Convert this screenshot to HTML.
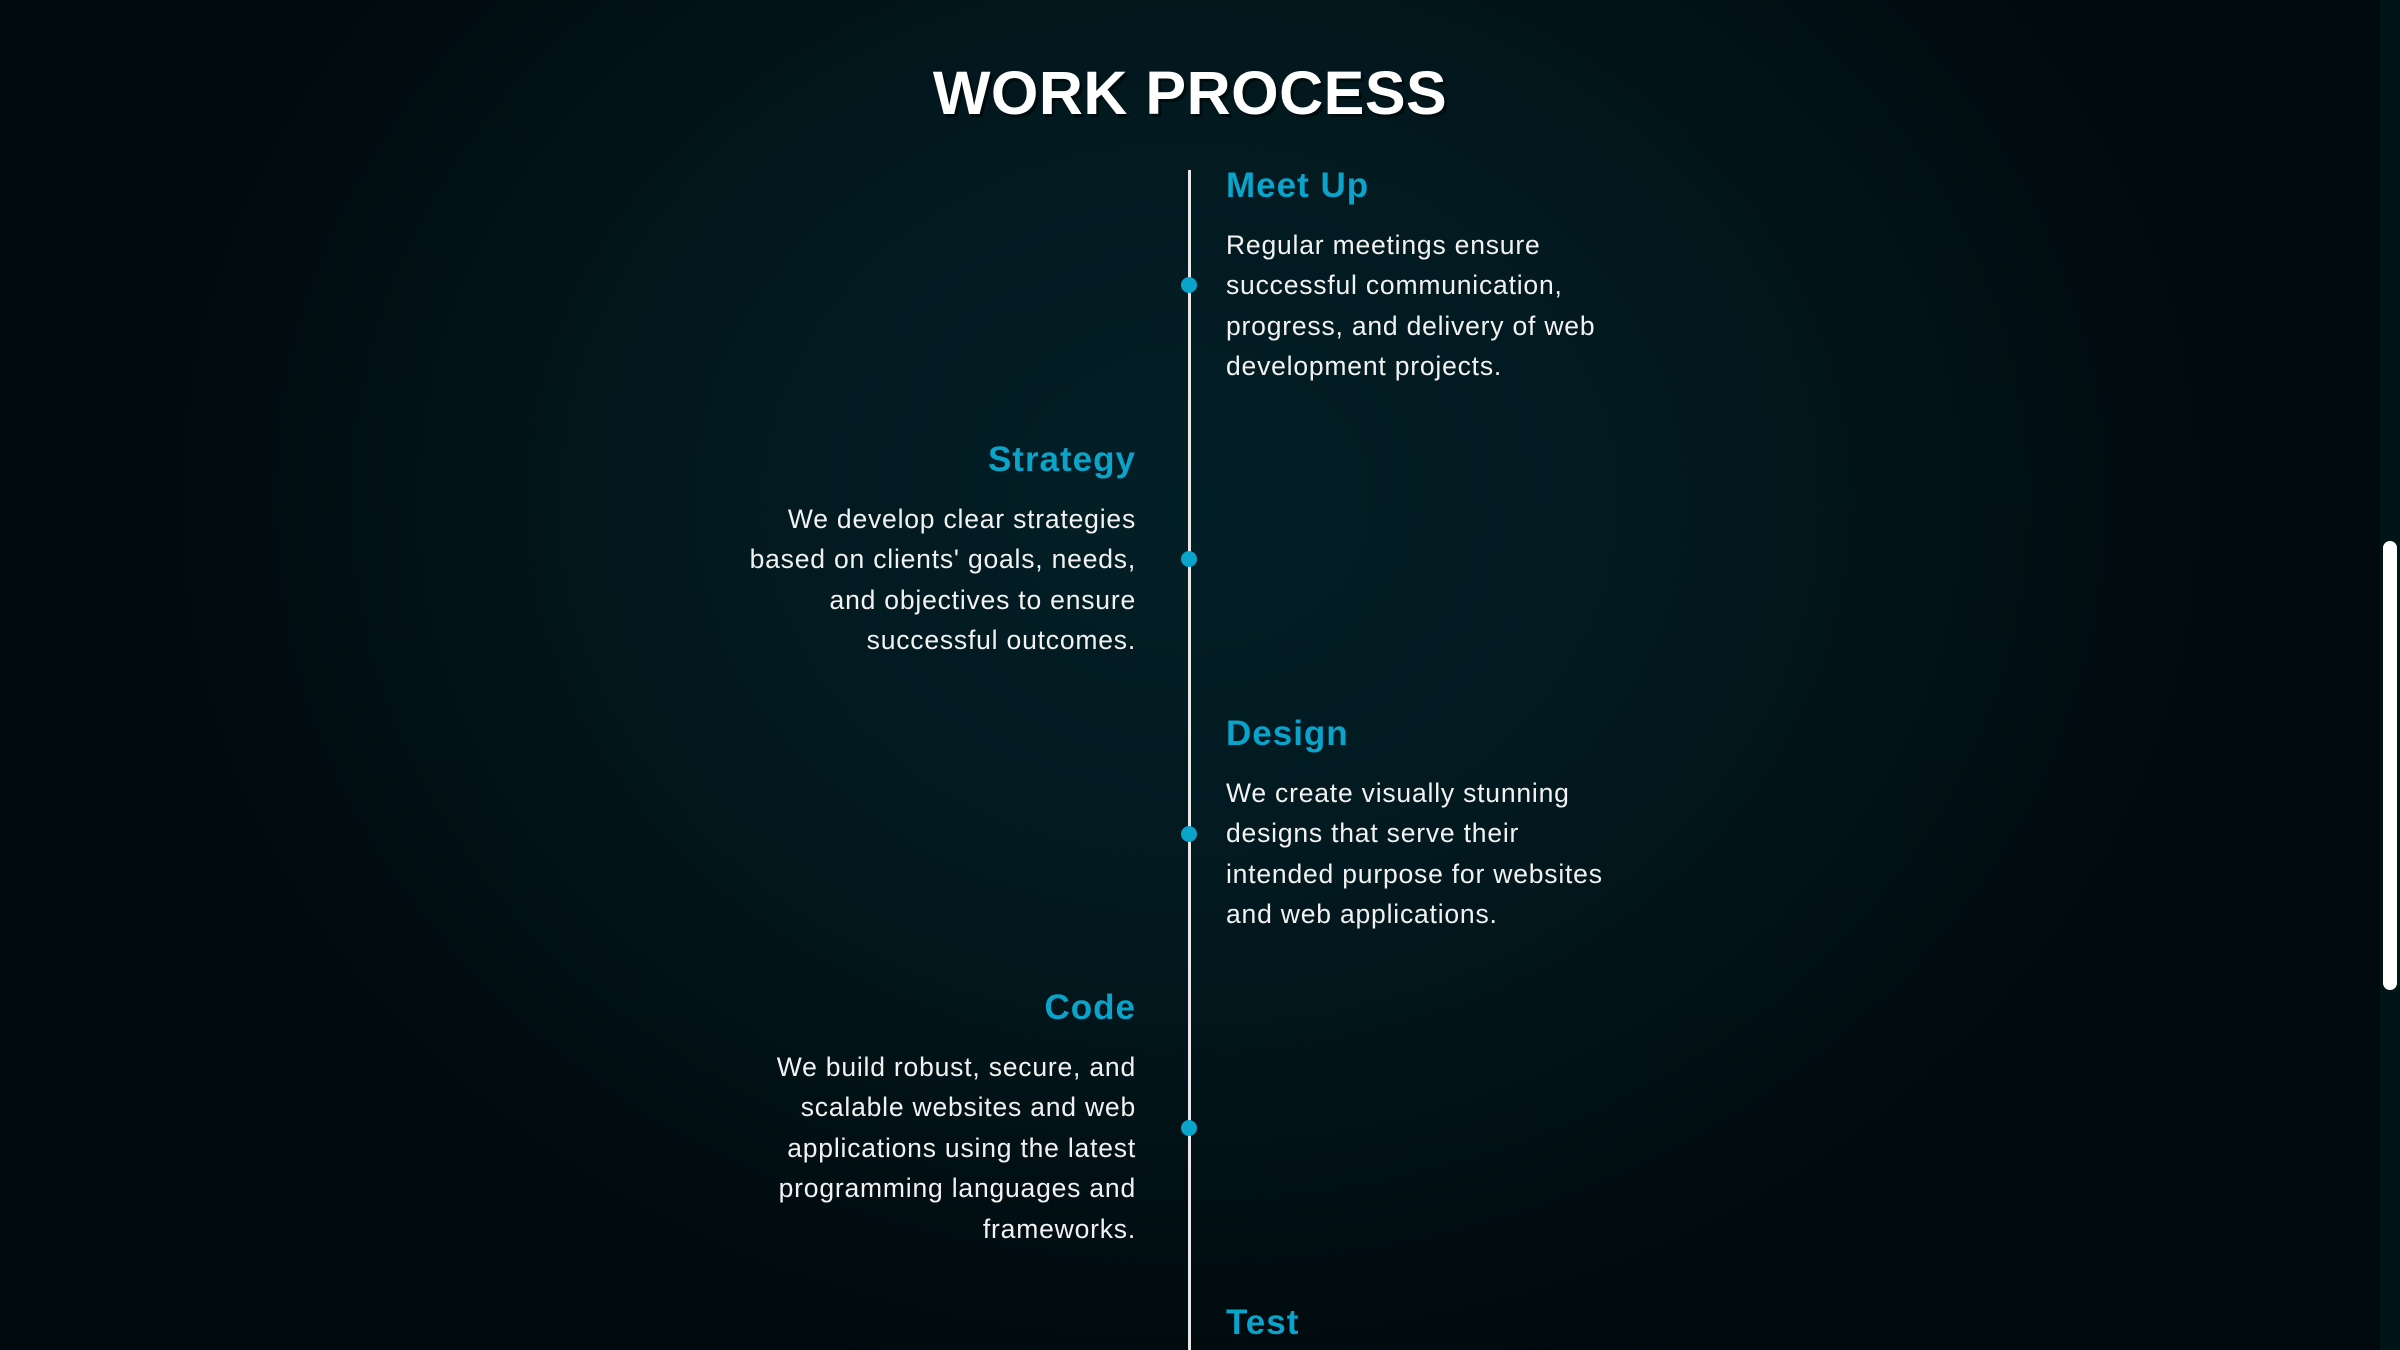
<!DOCTYPE html>
<html><head><meta charset="utf-8"><style>
html,body{margin:0;padding:0;}
body{width:2400px;height:1350px;overflow:hidden;position:relative;
background:radial-gradient(ellipse 1200px 1000px at 1190px 500px,#031f26 0%,#02181e 45%,#010c10 80%,#00090c 100%);
font-family:"Liberation Sans",sans-serif;}
h1{position:absolute;left:0;width:2380px;top:53px;margin:0;text-align:center;color:#fff;font-size:61px;font-weight:bold;line-height:80px;letter-spacing:0.5px;text-shadow:3px 3px 0 rgba(0,0,0,.5);}
.line{position:absolute;left:1188px;top:170px;width:3px;height:1180px;background:#e8e8e8;}
.dot{position:absolute;left:1181px;width:16px;height:16px;border-radius:50%;background:#0aa3c9;}
.h{position:absolute;margin:0;color:#0aa3c9;font-size:35px;font-weight:bold;line-height:40px;width:460px;letter-spacing:1px;}
.p{position:absolute;margin:0;color:#f2f2f2;font-size:26.5px;line-height:40.4px;width:460px;letter-spacing:0.8px;}
.r{left:1226px;text-align:left;}
.l{left:676px;text-align:right;}
.sb{position:absolute;left:2380px;top:0;width:20px;height:1350px;background:#011418;}
.th{position:absolute;left:2383px;top:541px;width:14px;height:449px;border-radius:7px;background:#fff;}
</style></head><body>
<h1>WORK PROCESS</h1>
<div class="line"></div>
<div class="dot" style="top:277px"></div>
<div class="dot" style="top:551px"></div>
<div class="dot" style="top:826px"></div>
<div class="dot" style="top:1120px"></div>

<div class="h r" style="top:166px">Meet Up</div>
<div class="p r" style="top:225px">Regular meetings ensure<br>successful communication,<br>progress, and delivery of web<br>development projects.</div>

<div class="h l" style="top:440px">Strategy</div>
<div class="p l" style="top:499px">We develop clear strategies<br>based on clients' goals, needs,<br>and objectives to ensure<br>successful outcomes.</div>

<div class="h r" style="top:714px">Design</div>
<div class="p r" style="top:773px">We create visually stunning<br>designs that serve their<br>intended purpose for websites<br>and web applications.</div>

<div class="h l" style="top:988px">Code</div>
<div class="p l" style="top:1047px">We build robust, secure, and<br>scalable websites and web<br>applications using the latest<br>programming languages and<br>frameworks.</div>

<div class="h r" style="top:1303px">Test</div>

<div class="sb"></div><div class="th"></div>
</body></html>
